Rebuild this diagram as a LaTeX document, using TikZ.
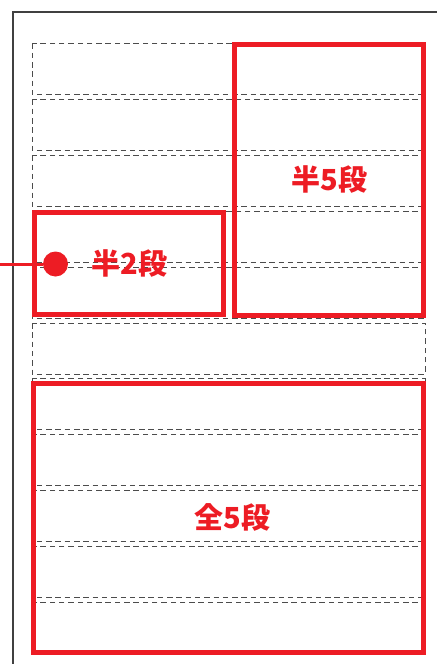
\documentclass[tikz,border=0pt]{standalone}
\usepackage{fontspec}
\newfontfamily\cjk{Noto Sans CJK JP}
\usepackage{tikz}
\definecolor{signred}{RGB}{237,28,36}

\begin{document}
\begin{tikzpicture}[
    x=1pt, y=-1pt,
    row/.style={draw=black!70, line width=.9pt, dash pattern=on 5.5pt off 3.8pt},
    block/.style={draw=signred, line width=5pt, rectangle, inner sep=0pt,
        font=\cjk\bfseries\fontsize{29}{29}\selectfont, text=signred},
    pin/.style={circle, fill=signred, minimum size=25pt, inner sep=0pt},
    frame/.style={draw=black!75, line width=1.4pt},
]
    \useasboundingbox (0,0) rectangle (437,664);
    % page edge
    \draw [frame] (13,664) |- (437,12);
    % rows
    \foreach \k in {0,...,10} {
        \draw [row] (32,43.5+55.9*\k) rectangle (425,94.5+55.9*\k);
    }
    % blocks
    \node [block, minimum width=188.5pt, minimum height=271.5pt] (half5) at (329.2,179.8) {半5段};
    \node [block, minimum width=188.5pt, minimum height=102.2pt] (half2) at (129.2,263.6) {半2段};
    \node [block, minimum width=389.7pt, minimum height=268.5pt] (full5) at (228.8,517.8) {\hspace{8pt}全5段};
    % pointer
    \node [pin] (dot) at (55.5,264) {};
    \coordinate (lead) at (0,264);
    \draw [signred, line width=3pt] (lead) -- (dot);
\end{tikzpicture}
\end{document}
